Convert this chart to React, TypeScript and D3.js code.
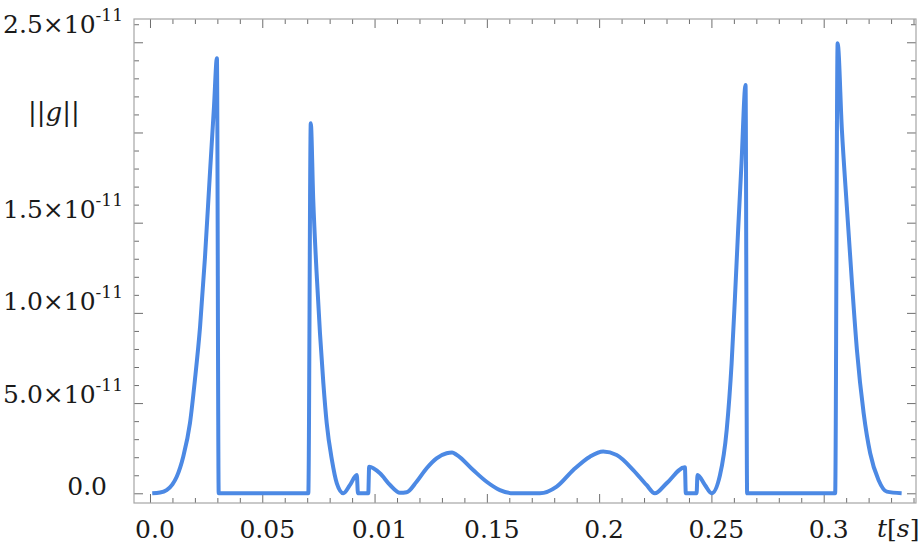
import { useEffect, useRef } from 'react';
import * as d3 from 'd3';

// t in seconds, ||g|| in units of 1e-11
const times = [
  0.001, 0.0045, 0.0074, 0.01, 0.0119, 0.0148, 0.0178, 0.02, 0.0223, 0.0245, 0.0267, 0.0285, 0.0298,
  0.0306, 0.0705, 0.0716, 0.0727, 0.0742, 0.0757, 0.0772, 0.0787, 0.081, 0.0832, 0.0861, 0.089,
  0.0921, 0.0926, 0.0972, 0.0976, 0.1024, 0.1069, 0.1113, 0.1143, 0.1187, 0.1232, 0.1276, 0.1321,
  0.1345, 0.1365, 0.1439, 0.1499, 0.1558, 0.1618, 0.1736, 0.1811, 0.1885, 0.1959, 0.2018, 0.2078,
  0.2152, 0.2211, 0.2248, 0.23, 0.2382, 0.2386, 0.2434, 0.2438, 0.2471, 0.2501, 0.2538, 0.2568,
  0.259, 0.2605, 0.2619, 0.2634, 0.2652, 0.2659, 0.3051, 0.3062, 0.3081, 0.3103, 0.3126, 0.3148,
  0.3178, 0.3207, 0.3244, 0.3281, 0.3347,
];
const gNorm = [
  0, 0.004, 0.018, 0.05, 0.092, 0.203, 0.389, 0.628, 0.923, 1.311, 1.775, 2.143, 2.411,
  0, 0, 2.051, 1.626, 1.22, 0.887, 0.61, 0.388, 0.185, 0.055, 0, 0.045,
  0.101, 0, 0, 0.147, 0.111, 0.046, 0.003, 0.006, 0.064, 0.139, 0.194, 0.222,
  0.226, 0.214, 0.129, 0.064, 0.018, 0, 0, 0.037, 0.129, 0.203, 0.231, 0.212,
  0.129, 0.046, 0, 0.055, 0.144, 0, 0, 0.101, 0.046, 0, 0.1, 0.351,
  0.721, 1.09, 1.46, 1.83, 2.263, 0, 0, 2.494, 2.014, 1.589, 1.164, 0.794,
  0.443, 0.222, 0.074, 0.009, 0,
];

const xTicks = [0, 0.05, 0.1, 0.15, 0.2, 0.25, 0.3];
const xTickLabels = ['0.0', '0.05', '0.01', '0.15', '0.2', '0.25', '0.3'];
const yTicks = [0, 0.5, 1.0, 1.5, 2.0, 2.5];
const yTickMantissa = ['0.0', '5.0×10', '1.0×10', '1.5×10', '', '2.5×10'];
const yTickExponent = ['', '-11', '-11', '-11', '', '-11'];

const FONT = "'DejaVu Serif', serif";

export default function App() {
  const svgRef = useRef<SVGSVGElement>(null);

  useEffect(() => {
    if (!svgRef.current) return;
    const svg = d3.select(svgRef.current);
    svg.selectAll('*').remove();

    const width = 921;
    const height = 556;
    const frame = { left: 134, right: 916, top: 19, bottom: 503 };

    svg.attr('width', width).attr('height', height);

    const x = d3.scaleLinear().domain([-0.00712, 0.3411]).range([frame.left, frame.right]);
    const y = d3.scaleLinear().domain([-0.0538, 2.629]).range([frame.bottom, frame.top]);

    const minorX = d3.range(0, 0.3405, 0.01).filter((v) => !xTicks.some((t) => Math.abs(t - v) < 1e-6));
    const minorY = d3.range(0, 2.65, 0.1).filter((v) => !yTicks.some((t) => Math.abs(t - v) < 1e-6));

    const tickColor = '#6e6e6e';
    const styleAxis = (g: any) => {
      g.select('.domain').remove();
      g.selectAll('line').attr('stroke', tickColor).attr('stroke-width', 1);
      g.selectAll('text').remove();
    };

    // ticks on all four sides, pointing inward
    const sides: [any, string][] = [
      [d3.axisBottom(x), `translate(0,${frame.bottom})`],
      [d3.axisTop(x), `translate(0,${frame.top})`],
    ];
    sides.forEach(([axis, tr]) => {
      svg.append('g').attr('transform', tr).call(axis.tickValues(xTicks).tickSize(-9).tickSizeOuter(0)).call(styleAxis);
      svg.append('g').attr('transform', tr).call(axis.tickValues(minorX).tickSize(-5).tickSizeOuter(0)).call(styleAxis);
    });
    const ySides: [any, string][] = [
      [d3.axisLeft(y), `translate(${frame.left},0)`],
      [d3.axisRight(y), `translate(${frame.right},0)`],
    ];
    ySides.forEach(([axis, tr]) => {
      svg.append('g').attr('transform', tr).call(axis.tickValues(yTicks).tickSize(-9).tickSizeOuter(0)).call(styleAxis);
      svg.append('g').attr('transform', tr).call(axis.tickValues(minorY).tickSize(-5).tickSizeOuter(0)).call(styleAxis);
    });

    // frame
    svg.append('rect')
      .attr('x', frame.left)
      .attr('y', frame.top)
      .attr('width', frame.right - frame.left)
      .attr('height', frame.bottom - frame.top)
      .attr('fill', 'none')
      .attr('stroke', '#a6a6a6')
      .attr('stroke-width', 1.2);

    // curve
    const pts = times.map((t, i) => [t, gNorm[i]] as [number, number]);
    const line = d3
      .line<[number, number]>()
      .x((d) => x(d[0]))
      .y((d) => y(d[1]))
      .curve(d3.curveMonotoneX);

    svg.append('path')
      .datum(pts)
      .attr('fill', 'none')
      .attr('stroke', '#4c89e4')
      .attr('stroke-width', 4)
      .attr('stroke-linejoin', 'round')
      .attr('d', line);

    const textColor = '#1a1a1a';

    // x tick labels
    svg.append('g')
      .selectAll('text')
      .data(xTicks)
      .join('text')
      .attr('x', (d) => x(d) + 5)
      .attr('y', 538)
      .attr('text-anchor', 'middle')
      .style('font-family', FONT)
      .style('font-size', '25px')
      .attr('fill', textColor)
      .text((d, i) => xTickLabels[i]);

    // y tick labels
    const yl = svg.append('g');
    yTicks.forEach((v, i) => {
      if (!yTickMantissa[i]) return;
      const t = yl.append('text')
        .attr('x', yTickExponent[i] ? 123 : 107)
        .attr('y', y(v) + 2 - v * 4.4)
        .attr('text-anchor', 'end')
        .style('font-family', FONT)
        .style('font-size', '25px')
        .attr('fill', textColor);
      t.append('tspan').text(yTickMantissa[i]);
      if (yTickExponent[i]) {
        t.append('tspan').attr('dy', -12).style('font-size', '17px').text(yTickExponent[i]);
      }
    });

    // axis labels
    const yLab = svg.append('text')
      .attr('x', 28)
      .attr('y', 121)
      .style('font-family', FONT)
      .style('font-size', '26px')
      .attr('fill', textColor);
    yLab.append('tspan').text('||');
    yLab.append('tspan').style('font-style', 'italic').text('g');
    yLab.append('tspan').text('||');

    const xLab = svg.append('text')
      .attr('x', 877)
      .attr('y', 537)
      .style('font-family', FONT)
      .style('font-size', '25px')
      .attr('fill', textColor);
    xLab.append('tspan').style('font-style', 'italic').text('t');
    xLab.append('tspan').text('[');
    xLab.append('tspan').style('font-style', 'italic').text('s');
    xLab.append('tspan').text(']');
  }, []);

  return (
    <svg
      ref={svgRef}
      style={{ position: 'absolute', left: 0, top: 0, background: '#fff' }}
    ></svg>
  );
}
